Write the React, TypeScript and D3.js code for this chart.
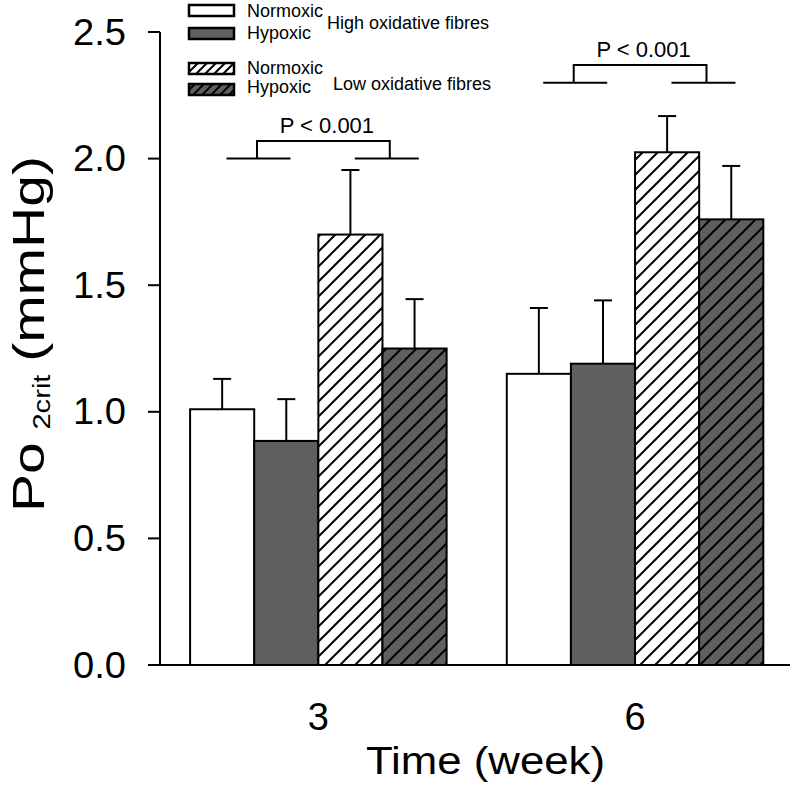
import React from "react";
import * as d3 from "d3";

const weeks = ["3", "6"];
const seriesKeys = ["normHigh", "hypHigh", "normLow", "hypLow"];
const seriesLabels = ["Normoxic", "Hypoxic", "Normoxic", "Hypoxic"];
const groupLabels = ["High oxidative fibres", "Low oxidative fibres"];
const normHigh = [1.01, 1.15];
const hypHigh = [0.885, 1.19];
const normLow = [1.7, 2.025];
const hypLow = [1.25, 1.76];
const normHighErr = [0.12, 0.26];
const hypHighErr = [0.165, 0.25];
const normLowErr = [0.255, 0.143];
const hypLowErr = [0.195, 0.211];
const yTicks = [0, 0.5, 1.0, 1.5, 2.0, 2.5];
const pLabels = ["P < 0.001", "P < 0.001"];
const bracketLevels = [2.0, 2.3];
const bracketRise = 0.07;

const means = [normHigh, hypHigh, normLow, hypLow];
const errs = [normHighErr, hypHighErr, normLowErr, hypLowErr];
const fills = ["#ffffff", "#5f5f5f", "url(#hatchW)", "url(#hatchG)"];
const legendFills = ["#ffffff", "#5f5f5f", "url(#lhatchW)", "url(#lhatchG)"];

const FONT = "'Liberation Sans', Arial, Helvetica, sans-serif";

export default function App() {
  const y = d3.scaleLinear().domain([0, 2.5]).range([665, 32]);
  const x0 = d3
    .scaleBand<string>()
    .domain(weeks)
    .range([160, 793.4])
    .paddingInner(0.19)
    .paddingOuter(0.095);
  const x1 = d3.scaleBand<string>().domain(seriesKeys).range([0, x0.bandwidth()]);
  const bw = x1.bandwidth();

  const legendRows = [5, 28, 63, 84];
  const legendBase = [16.7, 38.5, 73.5, 93];

  return (
    <svg
      width={797}
      height={793}
      style={{ position: "absolute", left: 0, top: 0, background: "#fff" }}
      fontFamily={FONT}
    >
      <defs>
        <pattern id="hatchW" patternUnits="userSpaceOnUse" width={15} height={15}>
          <rect width={15} height={15} fill="#fff" />
          <path d="M-3,3 l6,-6 M0,15 l15,-15 M12,18 l6,-6" stroke="#000" strokeWidth={2} />
        </pattern>
        <pattern id="hatchG" patternUnits="userSpaceOnUse" width={15} height={15}>
          <rect width={15} height={15} fill="#5f5f5f" />
          <path d="M-3,3 l6,-6 M0,15 l15,-15 M12,18 l6,-6" stroke="#000" strokeWidth={2} />
        </pattern>
        <pattern id="lhatchW" patternUnits="userSpaceOnUse" width={9} height={9}>
          <rect width={9} height={9} fill="#fff" />
          <path d="M-2,2 l4,-4 M0,9 l9,-9 M7,11 l4,-4" stroke="#000" strokeWidth={2} />
        </pattern>
        <pattern id="lhatchG" patternUnits="userSpaceOnUse" width={9} height={9}>
          <rect width={9} height={9} fill="#5f5f5f" />
          <path d="M-2,2 l4,-4 M0,9 l9,-9 M7,11 l4,-4" stroke="#000" strokeWidth={2} />
        </pattern>
      </defs>

      {/* bars */}
      {weeks.map((w, wi) =>
        seriesKeys.map((k, si) => {
          const v = means[si][wi];
          const bx = (x0(w) as number) + (x1(k) as number);
          return (
            <rect
              key={w + k}
              x={bx}
              y={y(v)}
              width={bw}
              height={y(0) - y(v)}
              fill={fills[si]}
              stroke="#000"
              strokeWidth={2}
            />
          );
        })
      )}

      {/* error bars */}
      {weeks.map((w, wi) =>
        seriesKeys.map((k, si) => {
          const v = means[si][wi];
          const e = errs[si][wi];
          const cx = (x0(w) as number) + (x1(k) as number) + bw / 2;
          return (
            <g key={"e" + w + k} stroke="#000" strokeWidth={2}>
              <line x1={cx} x2={cx} y1={y(v)} y2={y(v + e)} />
              <line x1={cx - 9} x2={cx + 9} y1={y(v + e)} y2={y(v + e)} />
            </g>
          );
        })
      )}

      {/* axes */}
      <line x1={160} x2={160} y1={y(2.5)} y2={y(0)} stroke="#000" strokeWidth={2} />
      <line x1={148} x2={790} y1={y(0)} y2={y(0)} stroke="#000" strokeWidth={2} />
      {yTicks.map((t) => (
        <g key={"t" + t}>
          <line x1={148} x2={160} y1={y(t)} y2={y(t)} stroke="#000" strokeWidth={2} />
          <text
            x={126}
            y={y(t) + 12.5}
            textAnchor="end"
            fontSize={36}
            fill="#000"
            textLength={53}
            lengthAdjust="spacingAndGlyphs"
          >
            {t.toFixed(1)}
          </text>
        </g>
      ))}
      {weeks.map((w) => (
        <text
          key={"xl" + w}
          x={(x0(w) as number) + x0.bandwidth() / 2}
          y={730}
          textAnchor="middle"
          fontSize={38}
          fill="#000"
        >
          {w}
        </text>
      ))}
      <text x={366} y={774} fontSize={38} fill="#000" textLength={239} lengthAdjust="spacingAndGlyphs">
        Time (week)
      </text>
      <text
        transform="translate(44,512) rotate(-90)"
        fontSize={45}
        fill="#000"
        textLength={356}
        lengthAdjust="spacingAndGlyphs"
      >
        <tspan>Po</tspan>
        <tspan fontSize={23} dx={10} dy={6}>2crit</tspan>
        <tspan dx={10} dy={-6}>(mmHg)</tspan>
      </text>

      {/* significance brackets */}
      {weeks.map((w, wi) => {
        const gx = x0(w) as number;
        const cL = gx + bw + 4.3;
        const cR = gx + 3 * bw + 4.3;
        const lvl = y(bracketLevels[wi]);
        const top = y(bracketLevels[wi] + bracketRise);
        const vL = cL - 1.5;
        const vR = cR + 3;
        return (
          <g key={"b" + w}>
            <path
              d={`M${cL - 32},${lvl} H${cL + 32} M${vL},${lvl} V${top} H${vR} V${lvl} M${cR - 32},${lvl} H${cR + 32}`}
              fill="none"
              stroke="#000"
              strokeWidth={2}
            />
            <text x={(vL + vR) / 2 + 3.5} y={top - 7.5} textAnchor="middle" fontSize={22} fill="#000">
              {pLabels[wi]}
            </text>
          </g>
        );
      })}

      {/* legend */}
      {seriesKeys.map((k, i) => (
        <g key={"lg" + k}>
          <rect
            x={189}
            y={legendRows[i]}
            width={45}
            height={11}
            fill={legendFills[i]}
            stroke="#000"
            strokeWidth={2.5}
          />
          <text x={247} y={legendBase[i]} fontSize={18} fill="#000">
            {seriesLabels[i]}
          </text>
        </g>
      ))}
      <text x={327} y={29} fontSize={18} fill="#000">
        {groupLabels[0]}
      </text>
      <text x={333} y={89.5} fontSize={18} fill="#000">
        {groupLabels[1]}
      </text>
    </svg>
  );
}
